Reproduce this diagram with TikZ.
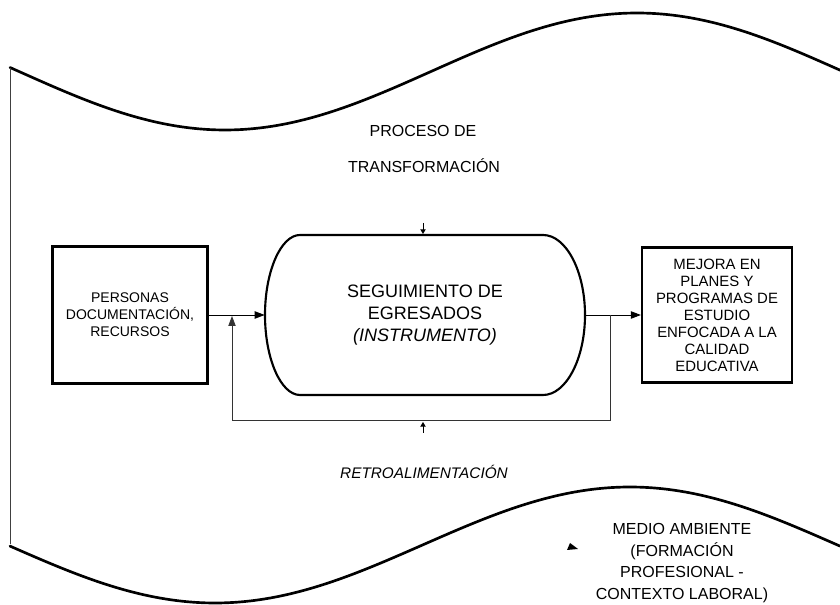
\documentclass[tikz,border=0pt]{standalone}
\usepackage{fontspec}
\setmainfont{Liberation Sans}
\usetikzlibrary{arrows.meta}
\tikzset{
  wave/.style={line width=2pt, line cap=round},
  thinline/.style={line width=0.6pt, black!75},
  boxstyle/.style={draw, line width=1.6pt, align=center, inner sep=0pt},
  flow/.style={line width=0.7pt, -{Triangle[length=7.5pt,width=5.5pt]}},
  fbline/.style={line width=0.6pt, black!80, -{Triangle[length=7.5pt,width=5.5pt]}},
  tick/.style={line width=0.7pt, -{Triangle[length=3.5pt,width=4pt]}},
  lbl/.style={align=center, inner sep=0pt, font=\fontsize{12}{16.9}\selectfont},
}
\begin{document}
\begin{tikzpicture}[x=0.75pt,y=-0.75pt]
\useasboundingbox (0,0) rectangle (840,605);
% environment waves
\draw[wave] plot[domain=10:840, samples=150] (\x, {71.5+58.5*cos(0.436893*(\x-225))});
\draw[wave] plot[domain=10:840, samples=150] (\x, {545-58*cos(0.433735*(\x-630))});
\draw[thinline] (10,68) -- (10,544);
% labels
\node[lbl] (proc1) at (423,131) {PROCESO DE};
\node[lbl] (proc2) at (424,166) {TRANSFORMACIÓN};
\node[lbl, font=\itshape\fontsize{11.5}{16.9}\selectfont] (retro) at (424,472) {RETROALIMENTACIÓN};
\node[lbl, font=\fontsize{12}{16.3}\selectfont] (medio) at (682,563) {MEDIO AMBIENTE\\(FORMACIÓN\\PROFESIONAL -\\CONTEXTO LABORAL)};
% boxes
\node[boxstyle, minimum width=116.25pt, minimum height=102.75pt,
      font=\fontsize{10.5}{12.75}\selectfont] (pers) at (130,315)
      {PERSONAS\\DOCUMENTACIÓN,\\RECURSOS};
\node[boxstyle, minimum width=112.5pt, minimum height=101.25pt,
      font=\fontsize{11.2}{12.75}\selectfont] (mejora) at (717,315)
      {MEJORA EN\\PLANES Y\\PROGRAMAS DE\\ESTUDIO\\ENFOCADA A LA\\CALIDAD\\EDUCATIVA};
% central terminal shape
\draw[line width=1.6pt] (300,235) -- (543,235)
  .. controls (566,235) and (585,271) .. (585,315)
  .. controls (585,359) and (566,395) .. (543,395)
  -- (300,395)
  .. controls (281,395) and (265,359) .. (265,315)
  .. controls (265,271) and (281,235) .. (300,235) -- cycle;
\node[align=center, inner sep=0pt, minimum width=240pt, minimum height=120pt,
      font=\fontsize{13.5}{16.5}\selectfont] (seg) at (425,315)
      {SEGUIMIENTO DE\\EGRESADOS\\\textit{(INSTRUMENTO)}};
% flows
\draw[flow] (pers.east) -- (seg.west);
\draw[flow] (seg.east) -- (mejora.west);
\coordinate (fbA) at (610,315);
\coordinate (fbB) at (610,420);
\coordinate (fbC) at (232,420);
\coordinate (fbD) at (232,316);
\draw[fbline] (fbA) -- (fbB) -- (fbC) -- (fbD);
% small marks
\coordinate (t1a) at (423,223);
\coordinate (t1b) at (423,234);
\coordinate (t2a) at (423,433);
\coordinate (t2b) at (423,422);
\draw[tick] (t1a) -- (t1b);
\draw[tick] (t2a) -- (t2b);
\fill (570,543) -- (578,549) -- (567,550) -- cycle;
\end{tikzpicture}
\end{document}
